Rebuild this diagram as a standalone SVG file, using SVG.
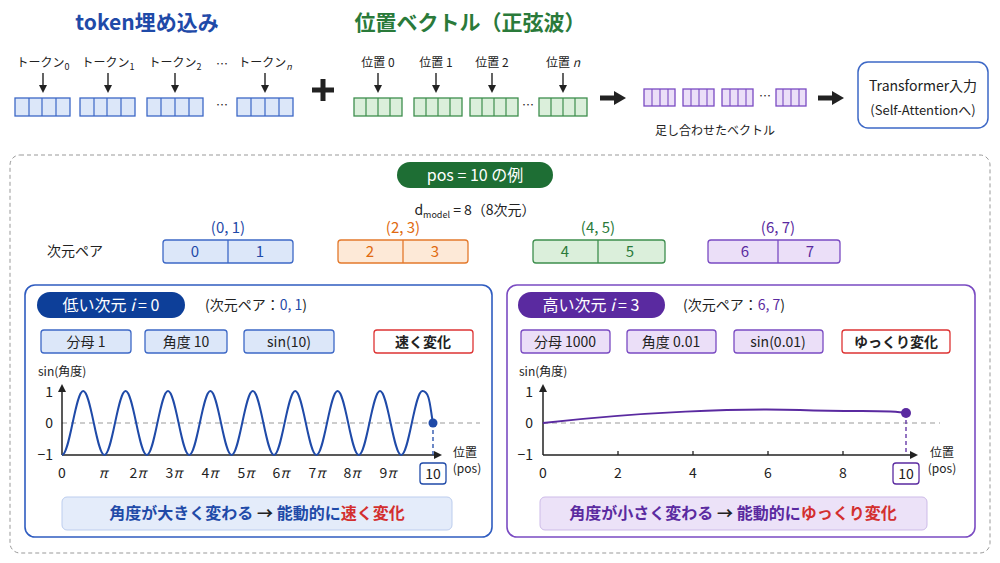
<svg xmlns="http://www.w3.org/2000/svg" width="1000" height="563" viewBox="0 0 1000 563">
<style>
text{font-family:"Noto Sans CJK JP","Noto Sans",sans-serif;}
.b{fill:#dce7f9;stroke:#3d68c6;stroke-width:1.3}
.g{fill:#dbefdb;stroke:#3e8e4e;stroke-width:1.3}
.p{fill:#ebdff8;stroke:#7a4bc2;stroke-width:1.3}
.o{fill:#fde9d7;stroke:#e3792c;stroke-width:1.3}
.lab{font-size:12px;fill:#222;text-anchor:middle}
.ax{stroke:#222;stroke-width:1.5;fill:none}
.dash{stroke:#999;stroke-width:1;stroke-dasharray:5 4;fill:none}
.tk{font-size:14px;fill:#222;text-anchor:middle}
.sa{stroke:#222;stroke-width:1.4;marker-end:url(#ah)}
.ba{stroke:#222;stroke-width:5;marker-end:url(#bh)}
</style>
<defs>
<marker id="ah" markerWidth="8" markerHeight="8" refX="6" refY="4" orient="auto" markerUnits="userSpaceOnUse"><path d="M0,0 L8,4 L0,8 z" fill="#222"/></marker>
<marker id="bh" markerWidth="12" markerHeight="14" refX="6" refY="7" orient="auto" markerUnits="userSpaceOnUse"><path d="M0,0 L12,7 L0,14 z" fill="#222"/></marker>
</defs>
<rect width="1000" height="563" fill="#fff"/>

<g id="titles">
<text x="147" y="30" font-size="21" font-weight="bold" fill="#1f4aa8" text-anchor="middle">token埋め込み</text>
<text x="470" y="30" font-size="21" font-weight="bold" fill="#2a7a3a" text-anchor="middle">位置ベクトル（正弦波）</text>
</g>

<g id="tokens">
<text class="lab" x="43" y="67">トークン<tspan font-size="9" dy="3">0</tspan></text>
<text class="lab" x="108" y="67">トークン<tspan font-size="9" dy="3">1</tspan></text>
<text class="lab" x="175" y="67">トークン<tspan font-size="9" dy="3">2</tspan></text>
<text class="lab" x="222" y="69">…</text>
<text class="lab" x="265" y="67">トークン<tspan font-size="9" dy="3" font-style="italic">n</tspan></text>
<g class="b">
<rect x="15" y="98" width="55" height="18"/><rect x="80" y="98" width="55" height="18"/><rect x="147" y="98" width="56" height="18"/><rect x="237" y="98" width="56" height="18"/>
</g>
<g stroke="#3d68c6" stroke-width="1.2">
<path d="M29 98v18M42 98v18M56 98v18M94 98v18M107 98v18M121 98v18M161 98v18M175 98v18M189 98v18M251 98v18M265 98v18M279 98v18"/>
</g>
<text class="lab" x="222" y="110">…</text>
</g>

<g id="positions">
<text class="lab" x="378" y="67">位置 0</text>
<text class="lab" x="436" y="67">位置 1</text>
<text class="lab" x="492" y="67">位置 2</text>
<text class="lab" x="563" y="67">位置 <tspan font-style="italic">n</tspan></text>
<g class="g">
<rect x="354" y="98" width="48" height="18"/><rect x="414" y="98" width="48" height="18"/><rect x="470" y="98" width="48" height="18"/><rect x="539" y="98" width="48" height="18"/>
</g>
<g stroke="#3e8e4e" stroke-width="1.2">
<path d="M366 98v18M378 98v18M390 98v18M426 98v18M438 98v18M450 98v18M482 98v18M494 98v18M506 98v18M551 98v18M563 98v18M575 98v18"/>
</g>
<text class="lab" x="528" y="110">…</text>
</g>

<g id="plus"><path d="M312 90h22M323 79v22" stroke="#222" stroke-width="5"/></g>

<g id="sum">
<g class="p">
<rect x="644" y="89" width="31" height="17"/><rect x="683" y="89" width="31" height="17"/><rect x="722" y="89" width="31" height="17"/><rect x="776" y="89" width="30" height="17"/>
</g>
<g stroke="#7a4bc2" stroke-width="1.1">
<path d="M652 89v17M660 89v17M668 89v17M691 89v17M699 89v17M707 89v17M730 89v17M738 89v17M746 89v17M783 89v17M791 89v17M799 89v17"/>
</g>
<text class="lab" x="765" y="101">…</text>
<text class="lab" x="715" y="135" font-size="13">足し合わせたベクトル</text>
</g>

<g id="transformer">
<rect x="858" y="62" width="130" height="66" rx="10" fill="#fff" stroke="#3d68c6" stroke-width="1.5"/>
<text x="923" y="91" font-size="14" text-anchor="middle" fill="#222">Transformer入力</text>
<text x="923" y="115" font-size="13" text-anchor="middle" fill="#222">(Self-Attentionへ)</text>
</g>

<g id="connectors">
<path class="sa" d="M43 73v18"/><path class="sa" d="M108 73v18"/><path class="sa" d="M175 73v18"/><path class="sa" d="M265 73v18"/>
<path class="sa" d="M378 73v18"/><path class="sa" d="M436 73v18"/><path class="sa" d="M492 73v18"/><path class="sa" d="M563 73v18"/>
<path class="ba" d="M600 98h20"/><path class="ba" d="M818 98h20"/>
</g>

<g id="example">
<rect x="10" y="155" width="980" height="398" rx="10" fill="none" stroke="#999" stroke-width="1" stroke-dasharray="4 3"/>
<rect x="397" y="162" width="156" height="26" rx="13" fill="#1e6e34"/>
<text x="475" y="181" font-size="16" fill="#fff" text-anchor="middle">pos = 10 の例</text>
<text x="475" y="215" font-size="14" fill="#222" text-anchor="middle">d<tspan font-size="9" dy="3">model</tspan><tspan dy="-3"> = 8（8次元）</tspan></text>
<text x="75" y="256" font-size="14" fill="#222" text-anchor="middle">次元ペア</text>
<g font-size="15" text-anchor="middle">
<text x="228" y="233" fill="#1f4aa8">(0, 1)</text>
<text x="403" y="233" fill="#e06a10">(2, 3)</text>
<text x="598" y="233" fill="#2a7a3a">(4, 5)</text>
<text x="778" y="233" fill="#5a2aa0">(6, 7)</text>
</g>
<rect class="b" x="163" y="240" width="130" height="23" rx="3"/><path d="M228 240v23" stroke="#3d68c6" stroke-width="1.3"/>
<rect class="o" x="338" y="240" width="130" height="23" rx="3"/><path d="M403 240v23" stroke="#e3792c" stroke-width="1.3"/>
<rect class="g" x="533" y="240" width="132" height="23" rx="3"/><path d="M598 240v23" stroke="#3e8e4e" stroke-width="1.3"/>
<rect class="p" x="708" y="240" width="132" height="23" rx="3"/><path d="M778 240v23" stroke="#7a4bc2" stroke-width="1.3"/>
<g font-size="15" text-anchor="middle">
<text x="195" y="257" fill="#1f4aa8">0</text><text x="260" y="257" fill="#1f4aa8">1</text>
<text x="370" y="257" fill="#e06a10">2</text><text x="435" y="257" fill="#e06a10">3</text>
<text x="565" y="257" fill="#2a7a3a">4</text><text x="630" y="257" fill="#2a7a3a">5</text>
<text x="745" y="257" fill="#5a2aa0">6</text><text x="810" y="257" fill="#5a2aa0">7</text>
</g>
</g>

<g id="low">
<rect x="25" y="285" width="467" height="252" rx="10" fill="#fff" stroke="#2f5cc0" stroke-width="1.6"/>
<rect x="37" y="292" width="148" height="26" rx="13" fill="#0d3f99"/>
<text x="111" y="311" font-size="16" fill="#fff" text-anchor="middle">低い次元 <tspan font-style="italic">i</tspan> = 0</text>
<text x="205" y="310" font-size="14" fill="#222">(次元ペア：<tspan fill="#1f4aa8">0, 1</tspan>)</text>
<rect class="b" x="41" y="330" width="90" height="23" rx="3" fill="#e6eefb"/>
<rect class="b" x="145" y="330" width="82" height="23" rx="3" fill="#e6eefb"/>
<rect class="b" x="244" y="330" width="90" height="23" rx="3" fill="#e6eefb"/>
<rect x="374" y="330" width="99" height="23" rx="3" fill="#fff" stroke="#d33" stroke-width="1.3"/>
<text class="tk" x="86" y="347">分母 1</text>
<text class="tk" x="186" y="347">角度 10</text>
<text class="tk" x="289" y="347">sin(10)</text>
<text class="tk" x="423" y="347" fill="#d32f2f" font-weight="bold">速く変化</text>
<text x="38" y="376" font-size="12" fill="#222">sin(角度)</text>
<g font-size="14" fill="#222" text-anchor="end"><text x="53" y="397">1</text><text x="53" y="428">0</text><text x="53" y="460">−1</text></g>
<path class="dash" d="M62 423H480"/>
<path d="M62 455V386" class="ax" marker-end="url(#ah)"/>
<path d="M62 455H440" class="ax" marker-end="url(#ah)"/>
<path fill="none" stroke="#1f4aa8" stroke-width="2" d="M62 455C69.7 455 75.5 391 83.2 391S96.7 455 104.4 455S117.9 391 125.6 391S139.1 455 146.8 455S160.3 391 168 391S181.5 455 189.2 455S202.7 391 210.4 391S223.9 455 231.6 455S245.1 391 252.8 391S266.3 455 274 455S287.5 391 295.2 391S308.7 455 316.4 455S329.9 391 337.6 391S351.1 455 358.8 455S372.3 391 380 391S393.5 455 401.2 455S414.7 391 422.4 391S430 408 433 423"/>
<path d="M433 423V455" stroke="#1f4aa8" stroke-width="1.3" stroke-dasharray="4 3"/>
<circle cx="433" cy="423" r="4.5" fill="#1f4aa8"/>
<g class="tk" font-size="13"><text x="62" y="478">0</text><text x="103" y="478" font-style="italic">π</text><text x="138" y="478">2<tspan font-style="italic">π</tspan></text><text x="174" y="478">3<tspan font-style="italic">π</tspan></text><text x="210" y="478">4<tspan font-style="italic">π</tspan></text><text x="246" y="478">5<tspan font-style="italic">π</tspan></text><text x="281" y="478">6<tspan font-style="italic">π</tspan></text><text x="317" y="478">7<tspan font-style="italic">π</tspan></text><text x="352" y="478">8<tspan font-style="italic">π</tspan></text><text x="388" y="478">9<tspan font-style="italic">π</tspan></text></g>
<rect x="420" y="463" width="26" height="21" rx="3" fill="#fff" stroke="#1f4aa8" stroke-width="1.3"/>
<text class="tk" x="433" y="479" fill="#1f4aa8">10</text>
<text x="465" y="457" font-size="12" fill="#222" text-anchor="middle">位置</text>
<text x="467" y="473" font-size="12" fill="#222" text-anchor="middle">(pos)</text>
<rect x="62" y="497" width="390" height="33" rx="5" fill="#e4ecfa" stroke="#bccdee"/>
<text x="257" y="519" font-size="16" fill="#1f4aa8" text-anchor="middle" font-weight="bold">角度が大きく変わる <tspan fill="#222">→</tspan> 能動的に<tspan fill="#d32f2f">速く変化</tspan></text>
</g>

<g id="high">
<rect x="507" y="285" width="468" height="252" rx="10" fill="#fff" stroke="#7a4bc2" stroke-width="1.6"/>
<rect x="518" y="292" width="147" height="26" rx="13" fill="#5a2aa0"/>
<text x="591" y="311" font-size="16" fill="#fff" text-anchor="middle">高い次元 <tspan font-style="italic">i</tspan> = 3</text>
<text x="683" y="310" font-size="14" fill="#222">(次元ペア：<tspan fill="#5a2aa0">6, 7</tspan>)</text>
<rect class="p" x="521" y="330" width="89" height="23" rx="3" fill="#f0e8f9"/>
<rect class="p" x="627" y="330" width="89" height="23" rx="3" fill="#f0e8f9"/>
<rect class="p" x="734" y="330" width="89" height="23" rx="3" fill="#f0e8f9"/>
<rect x="842" y="330" width="108" height="23" rx="3" fill="#fff" stroke="#d33" stroke-width="1.3"/>
<text class="tk" x="565" y="347">分母 1000</text>
<text class="tk" x="671" y="347">角度 0.01</text>
<text class="tk" x="778" y="347">sin(0.01)</text>
<text class="tk" x="896" y="347" fill="#d32f2f" font-weight="bold">ゆっくり変化</text>
<text x="519" y="376" font-size="12" fill="#222">sin(角度)</text>
<g font-size="14" fill="#222" text-anchor="end"><text x="533" y="397">1</text><text x="533" y="428">0</text><text x="533" y="460">−1</text></g>
<path class="dash" d="M543 423H940"/>
<path d="M543 455V386" class="ax" marker-end="url(#ah)"/>
<path d="M543 455H916" class="ax" marker-end="url(#ah)"/>
<path d="M618 455v-4M693 455v-4M768 455v-4M843 455v-4" stroke="#222" stroke-width="1.3"/>
<path fill="none" stroke="#5a2aa0" stroke-width="2" d="M543 423C640 412 740 408 800 410S890 410 906 413"/>
<path d="M906 413V455" stroke="#5a2aa0" stroke-width="1.3" stroke-dasharray="4 3"/>
<circle cx="906" cy="413" r="5" fill="#5a2aa0"/>
<g class="tk" font-size="13"><text x="543" y="478">0</text><text x="618" y="478">2</text><text x="693" y="478">4</text><text x="768" y="478">6</text><text x="843" y="478">8</text></g>
<rect x="893" y="463" width="26" height="21" rx="3" fill="#fff" stroke="#5a2aa0" stroke-width="1.3"/>
<text class="tk" x="906" y="479" fill="#222">10</text>
<text x="942" y="457" font-size="12" fill="#222" text-anchor="middle">位置</text>
<text x="942" y="473" font-size="12" fill="#222" text-anchor="middle">(pos)</text>
<rect x="540" y="497" width="387" height="33" rx="5" fill="#ece2f8" stroke="#cdbbe8"/>
<text x="733" y="519" font-size="16" fill="#5a2aa0" text-anchor="middle" font-weight="bold">角度が小さく変わる <tspan fill="#222">→</tspan> 能動的に<tspan fill="#d32f2f">ゆっくり変化</tspan></text>
</g>
</svg>
